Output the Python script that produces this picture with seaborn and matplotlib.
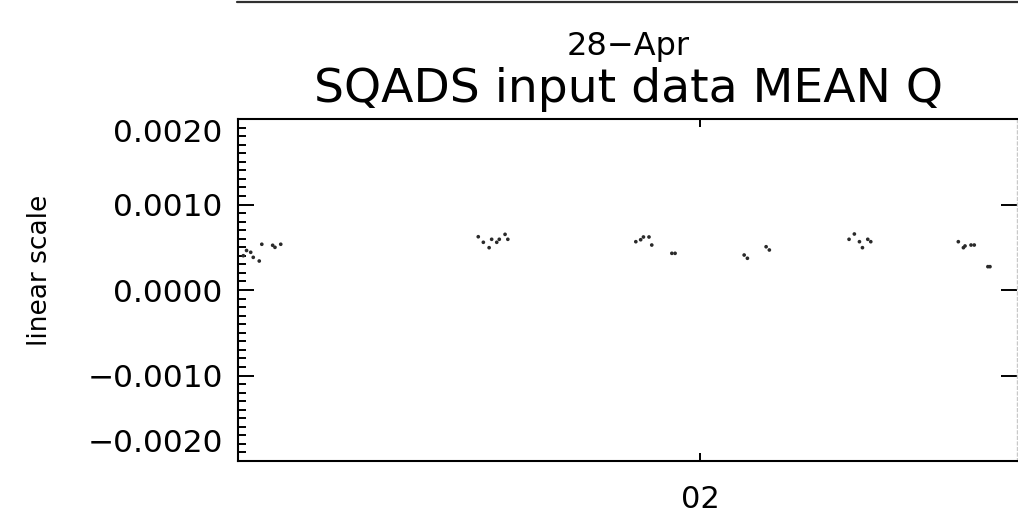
import matplotlib
matplotlib.use("Agg")
import matplotlib.pyplot as plt
import matplotlib.lines as mlines
from matplotlib.transforms import ScaledTranslation
from matplotlib.ticker import MultipleLocator, FixedLocator
import seaborn as sns
import pandas as pd

# Hours after midnight of each sample, and the mean Q value of the SQADS input
time_hours = [
    0.023, 0.037, 0.055, 0.066, 0.092, 0.103, 0.150, 0.160, 0.185,
    1.040, 1.062, 1.087, 1.098, 1.120, 1.131, 1.156, 1.168,
    1.722, 1.743, 1.755, 1.779, 1.791, 1.878, 1.892,
    2.191, 2.205, 2.286, 2.300,
    2.645, 2.668, 2.690, 2.703, 2.726, 2.739,
    3.118, 3.140, 3.147, 3.173, 3.187, 3.246, 3.255,
]
mean_q = [
    0.000401, 0.000462, 0.000441, 0.000382, 0.000339, 0.000535, 0.000523, 0.000499, 0.000535,
    0.000623, 0.000558, 0.000495, 0.000593, 0.000558, 0.000593, 0.000651, 0.000593,
    0.000565, 0.000588, 0.000620, 0.000620, 0.000526, 0.000429, 0.000429,
    0.000409, 0.000371, 0.000506, 0.000468,
    0.000593, 0.000655, 0.000565, 0.000495, 0.000593, 0.000565,
    0.000565, 0.000495, 0.000515, 0.000526, 0.000526, 0.000273, 0.000273,
]
x_limits = [0.0, 3.372]
y_ticks = [-0.002, -0.001, 0.0, 0.001, 0.002]
y_tick_labels = ["\u22120.0020", "\u22120.0010", "0.0000", "0.0010", "0.0020"]
x_ticks = [2.0]
x_tick_labels = ["02"]
date_label = "28\u2212Apr"
title = "SQADS input data MEAN Q"
y_label = "linear scale"

df = pd.DataFrame({"hour": time_hours, "q": mean_q})

sns.set_style("white")
plt.rcParams["font.family"] = ["DejaVu Sans"]
plt.rcParams["text.color"] = "black"
plt.rcParams["xtick.color"] = "black"
plt.rcParams["ytick.color"] = "black"
plt.rcParams["xtick.labelcolor"] = "black"
plt.rcParams["ytick.labelcolor"] = "black"

fig = plt.figure(figsize=(10.18, 5.16), dpi=100)
ax = fig.add_axes([238 / 1018, 55 / 516, 779 / 1018, 342 / 516])

sns.scatterplot(data=df, x="hour", y="q", ax=ax, s=7, color="#2a2a2a",
                edgecolor="none", linewidth=0, legend=False)

ax.set_xlim(*x_limits)
ax.set_ylim(y_ticks[0], y_ticks[-1])
ax.set_xlabel("")
ax.set_ylabel("")

ax.yaxis.set_major_locator(FixedLocator(y_ticks))
ax.set_yticklabels(y_tick_labels)
ax.yaxis.set_minor_locator(MultipleLocator(0.0001))
ax.xaxis.set_major_locator(FixedLocator(x_ticks))
ax.set_xticklabels(x_tick_labels)

ax.tick_params(axis="y", which="major", direction="in", length=11.5, width=1.4,
               labelsize=22.5, pad=11, left=True, right=True, labelright=False,
               color="black", labelcolor="black")
ax.tick_params(axis="y", which="minor", direction="in", length=6, width=1.4,
               left=True, right=False, color="black")
ax.tick_params(axis="x", which="major", direction="in", length=6, width=1.4,
               labelsize=22, pad=17, bottom=True, top=True, color="black",
               labelcolor="black")

for side in ("left", "bottom", "top"):
    ax.spines[side].set_visible(True)
    ax.spines[side].set_color("black")
    ax.spines[side].set_linewidth(1.5)
ax.spines["right"].set_visible(True)
ax.spines["right"].set_color("#c8c8c8")
ax.spines["right"].set_linewidth(1.0)
ax.spines["right"].set_linestyle((0, (2, 2)))

# Pull the end labels of the y axis inside the frame
ylabels = ax.get_yticklabels()
ylabels[-1].set_transform(ylabels[-1].get_transform()
                          + ScaledTranslation(0, -11 / 100, fig.dpi_scale_trans))
ylabels[0].set_transform(ylabels[0].get_transform()
                         + ScaledTranslation(0, 20 / 100, fig.dpi_scale_trans))

fig.text(628 / 1018, 1 - 47 / 516, date_label, ha="center", va="center",
         fontsize=23, color="black")
fig.text(628 / 1018, 1 - 90 / 516, title, ha="center", va="center",
         fontsize=34, color="black")
fig.text(40 / 1018, 1 - 270 / 516, y_label, ha="center", va="center",
         rotation=90, fontsize=19, color="black")

# Rule along the top edge of the panel
fig.add_artist(mlines.Line2D([237 / 1018, 1.0], [1 - 2 / 516, 1 - 2 / 516],
                             transform=fig.transFigure, color="#303030", linewidth=1.6))

fig.savefig("out.png", dpi=100, facecolor="white")
